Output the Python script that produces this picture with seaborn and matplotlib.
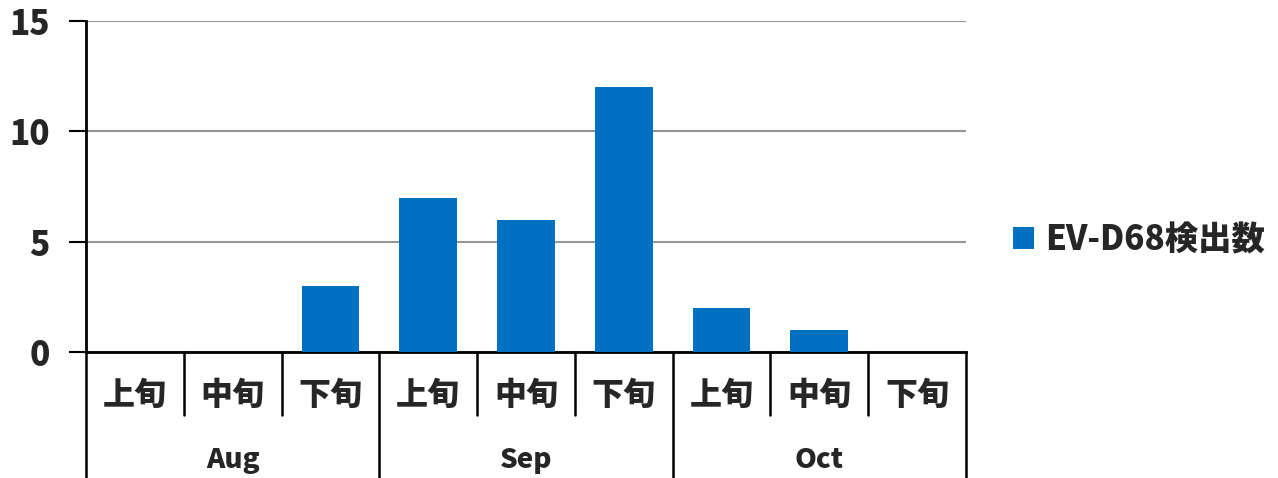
import numpy as np
import pandas as pd
import matplotlib
matplotlib.use("Agg")
import matplotlib.pyplot as plt
import matplotlib.transforms as mtransforms
import seaborn as sns

# -----------------------------
# Data
# -----------------------------

months = ["Aug", "Sep", "Oct"]
periods = ["上旬", "中旬", "下旬"]
counts = [0, 0, 3, 7, 6, 12, 2, 1, 0]
series_name = "EV-D68検出数"

slots = [f"{m} {p}" for m in months for p in periods]
df = pd.DataFrame({"slot": slots, "count": counts})

# -----------------------------
# Style
# -----------------------------

sns.set_style("white")
plt.rcParams["font.family"] = ["Noto Sans CJK JP", "DejaVu Sans"]
plt.rcParams["font.weight"] = "heavy"

BAR_COLOR = "#0070C0"
GRID_COLOR = "#969696"
W = "heavy"

fig = plt.figure(figsize=(12.78, 4.78), dpi=100)
ax = fig.add_axes([86 / 1278, 126 / 478, 880 / 1278, 331 / 478])

sns.barplot(data=df, x="slot", y="count", order=slots, color=BAR_COLOR,
            width=0.59, saturation=1, label=series_name, ax=ax, zorder=3,
            linewidth=0)

ax.set_ylim(0, 15)
ax.set_yticks([0, 5, 10, 15])
ax.set_xlim(-0.5, len(slots) - 0.5)
ax.yaxis.grid(True, color=GRID_COLOR, linewidth=1.5, zorder=0)
ax.set_axisbelow(True)
ax.tick_params(axis="y", direction="out", length=12, width=1.5, color="black",
               labelsize=24, pad=14, left=True)
for t in ax.get_yticklabels():
    t.set_fontweight(W)
ax.set_xticks([])
ax.set_xlabel("")
ax.set_ylabel("")

for side in ["top", "right"]:
    ax.spines[side].set_visible(False)
for side in ["left", "bottom"]:
    ax.spines[side].set_color("black")
    ax.spines[side].set_linewidth(2)

# -----------------------------
# Two-level category axis
# -----------------------------

trans = mtransforms.blended_transform_factory(ax.transData, ax.transAxes)
minor_bottom = -0.19
major_bottom = -0.39

for i in range(len(slots) + 1):
    x = i - 0.5
    if i % 3 == 0:
        ax.plot([x, x], [0, major_bottom], transform=trans, color="black",
                lw=1.8, clip_on=False)
    else:
        ax.plot([x, x], [0, minor_bottom], transform=trans, color="black",
                lw=1.8, clip_on=False)

for i, s in enumerate(slots):
    ax.text(i, -0.13, periods[i % 3], transform=trans, ha="center", va="center",
            fontsize=23, fontweight=W)

for j, m in enumerate(months):
    ax.text(j * 3 + 1, -0.325, m, transform=trans, ha="center", va="center",
            fontsize=20, fontweight=W)

# -----------------------------
# Legend
# -----------------------------

leg = ax.legend(loc="center left", bbox_to_anchor=(1.053, 0.34), frameon=False,
                borderaxespad=0, borderpad=0,
                handlelength=0.65, handleheight=0.65, handletextpad=0.33,
                prop={"size": 24, "weight": W})

fig.savefig("out.png", dpi=100)
